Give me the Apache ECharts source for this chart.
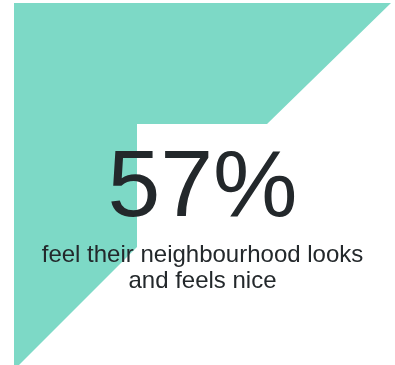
<!DOCTYPE html>
<html>
<head>
<meta charset="utf-8">
<style>
  html, body { margin: 0; padding: 0; background: #ffffff; }
  #chart { width: 395px; height: 365px; }
</style>
<script src="https://cdn.jsdelivr.net/npm/echarts@6/dist/echarts.min.js"></script>
</head>
<body>
<div id="chart"></div>
<script>
// Headline statistic and its caption
const statValues = [57];
const statUnits = ['%'];
const captionLines = ['feel their neighbourhood looks', 'and feels nice'];

const chart = echarts.init(document.getElementById('chart'), null, { renderer: 'canvas' });

const textColor = '#23282b';
const accent = '#7dd9c6';
const fontFamily = '"Liberation Sans", Arial, sans-serif';

// Decorative backdrop: an angled teal band with a notch cut out behind the figure
const backdrop = {
  type: 'polygon',
  silent: true,
  shape: {
    points: [[14, 3], [391, 3], [267, 124], [137, 124], [137, 247], [14, 370]]
  },
  style: { fill: accent }
};

const headline = {
  type: 'text',
  style: {
    x: 202.5,
    y: 190,
    text: statValues[0] + statUnits[0],
    fill: textColor,
    font: '95px ' + fontFamily,
    align: 'center',
    verticalAlign: 'middle'
  }
};

const caption = captionLines.map((line, i) => ({
  type: 'text',
  style: {
    x: 202.5,
    y: 255 + i * 26.4,
    text: line,
    fill: textColor,
    font: '24px ' + fontFamily,
    align: 'center',
    verticalAlign: 'middle'
  }
}));

chart.setOption({
  backgroundColor: '#ffffff',
  animation: false,
  graphic: { elements: [backdrop, headline].concat(caption) }
});
</script>
</body>
</html>
